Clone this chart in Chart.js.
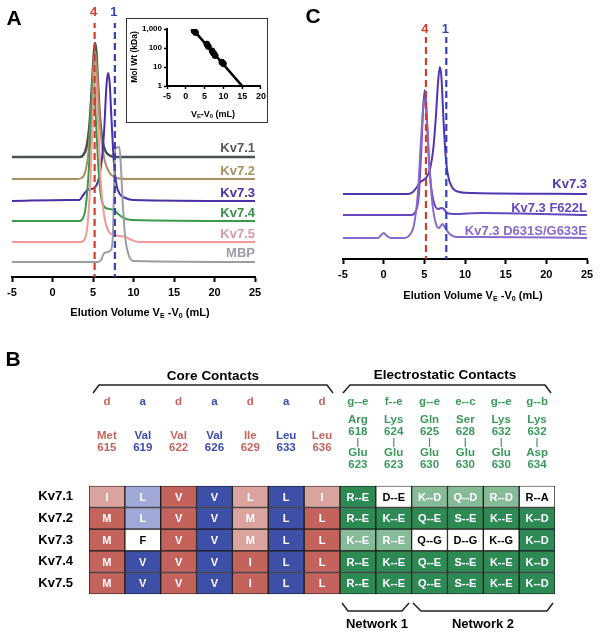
<!DOCTYPE html>
<html>
<head>
<meta charset="utf-8">
<script src="https://cdn.jsdelivr.net/npm/chart.js@4.4.1/dist/chart.umd.min.js"></script>
<style>
  body { margin: 0; background: #fff; }
  #fig { position: relative; width: 600px; height: 636px; overflow: hidden;
         font-family: "Liberation Sans", Arial, sans-serif; font-weight: bold; }
  canvas { position: absolute; }
  .t { position: absolute; white-space: nowrap; line-height: 1; }
  .t sub { font-size: 65%; line-height: 0; vertical-align: -0.3em; }
  #inset-box { position: absolute; left: 126px; top: 18px; width: 142px; height: 105px;
               box-sizing: border-box; border: 1.3px solid #333; }
  svg { position: absolute; left: 0; top: 0; }
</style>
</head>
<body>
<div id="fig">
  <canvas id="chartA" width="300" height="320" style="left:0;top:0"></canvas>
  <div id="inset-box"></div>
  <canvas id="chartInset" width="142" height="105" style="left:126px;top:18px"></canvas>
  <canvas id="chartC" width="300" height="320" style="left:300px;top:0"></canvas>
  <canvas id="chartB" width="600" height="140" style="left:0;top:470px"></canvas>
  <svg width="600" height="636">
    <g fill="none" stroke="#222" stroke-width="1.5">
      <polyline points="93,393 99,385 327,385 333,393"/>
      <polyline points="343,393 350,385 545,385 551,393"/>
      <polyline points="342,603 348,611 402,611 409,603"/>
      <polyline points="413,603 421,611 547,611 553,603"/>
    </g>
  </svg>
</div>
<script>
// ---- shared
const elutionTicks = [-5, 0, 5, 10, 15, 20, 25];
const markerVolumes = [5.2, 7.7];      // tetramer / monomer standards
const markerNames = ['4', '1'];
const markerColors = ['#d23e2e', '#3443b5'];

// ---- panel A: SEC traces, [elution volume mL, signal + offset]
const kv71 = [[-5,120],[2,120],[3.4,120],[3.8,122],[4.2,130],[4.6,155],[4.9,195],[5.1,222],[5.25,234],[5.4,226],[5.6,195],[5.85,160],[6.2,135],[6.6,125],[7.2,121],[8,120],[12,120],[25,120]];
const kv72 = [[-5,98],[3,98],[3.6,99],[4,104],[4.4,122],[4.8,170],[5.05,210],[5.25,226],[5.45,212],[5.7,175],[6,140],[6.4,118],[6.9,106],[7.6,100],[9,98],[25,98]];
const kv73 = [[-5,76],[2,77],[3.3,77],[3.8,82],[4.3,87],[4.8,88],[5.3,90],[5.7,98],[6.1,118],[6.4,150],[6.65,190],[6.85,204],[7.05,195],[7.3,155],[7.6,112],[7.9,92],[8.3,83],[9,79],[10,77],[25,76]];
const kv74 = [[-5,56],[3.3,56],[3.7,58],[4.1,70],[4.5,110],[4.8,165],[5.0,197],[5.15,192],[5.4,150],[5.7,105],[6.0,80],[6.4,70],[7.0,68],[7.6,67],[8.1,63],[8.8,59],[9.8,57],[25,56]];
const kv75 = [[-5,35],[3.5,35],[3.9,37],[4.3,50],[4.7,100],[5.0,170],[5.2,207],[5.4,195],[5.7,140],[6.0,90],[6.4,60],[6.9,46],[7.6,42],[8.3,41],[9.0,40],[9.8,37],[10.6,35],[25,35]];
const mbp  = [[-5,15],[5.6,15],[6.0,17],[6.3,23],[6.8,25],[7.2,27],[7.45,40],[7.6,90],[7.75,128],[8.25,130],[8.45,110],[8.7,70],[9.0,38],[9.4,22],[10,16],[25,15]];
const aNames  = ['Kv7.1', 'Kv7.2', 'Kv7.3', 'Kv7.4', 'Kv7.5', 'MBP'];
const aTraces = [kv71, kv72, kv73, kv74, kv75, mbp];
const aColors = ['#4b5050', '#a8905e', '#4a2fa6', '#3a9a4c', '#f19a98', '#9c9ca6'];
const aLabelColors = ['#555a5a', '#a8905e', '#4a2fa6', '#3a9048', '#d899a8', '#9c9ca6'];
const aLabelY = [147, 170, 192, 212, 233, 252];

// ---- inset: calibration standards
const stdVolumes = [2.2, 2.6, 5.6, 6.0, 7.0, 7.4, 7.8, 9.6, 10.0];
const stdMass = [800, 650, 160, 120, 70, 52, 40, 18, 15];
const fitLine = [[1.8, 1000], [15, 1]];
const insetXTicks = [-5, 0, 5, 10, 15, 20];
const insetYTicks = [1, 10, 100, 1000];

// ---- panel C: Kv7.3 mutants
const c73    = [[-5,65],[3,65],[3.6,67],[4.1,72],[4.5,77],[4.9,79],[5.3,82],[5.7,90],[6.1,110],[6.4,140],[6.7,178],[6.9,192],[7.1,182],[7.35,140],[7.6,105],[7.9,84],[8.4,72],[9.3,67],[11,66],[25,65]];
const cF622L = [[-5,44],[3.4,44],[3.9,47],[4.3,62],[4.6,105],[4.85,150],[5.05,169],[5.25,152],[5.5,110],[5.8,75],[6.2,56],[6.7,50],[7.1,51],[7.4,50],[7.8,46],[8.6,45],[12,46],[25,44]];
const cD631S = [[-5,21],[-0.7,21],[-0.3,24],[0,26],[0.4,23],[0.9,21],[2.5,21],[3.2,24],[3.7,33],[4.2,65],[4.6,120],[4.9,155],[5.05,159],[5.3,140],[5.6,95],[6.0,55],[6.4,36],[6.8,31],[7.2,35],[7.5,32],[8.0,26],[9,22],[12,22],[25,21]];
const cNames  = ['Kv7.3', 'Kv7.3 F622L', 'Kv7.3 D631S/G633E'];
const cTraces = [c73, cF622L, cD631S];
const cColors = ['#5036b0', '#6548bd', '#8a69cc'];
const cLabelY = [183, 207, 230];

// ---- panel B: coiled-coil contact table
const rowNames = ['Kv7.1', 'Kv7.2', 'Kv7.3', 'Kv7.4', 'Kv7.5'];
const heptad = ['d', 'a', 'd', 'a', 'd', 'a', 'd', 'g--e', 'f--e', 'g--e', 'e--c', 'g--e', 'g--b'];
const coreNames = ['Met', 'Val', 'Val', 'Val', 'Ile', 'Leu', 'Leu'];
const coreNums  = ['615', '619', '622', '626', '629', '633', '636'];
const pairFrom    = ['Arg', 'Lys', 'Gln', 'Ser', 'Lys', 'Lys'];
const pairFromNum = ['618', '624', '625', '628', '632', '632'];
const pairTo      = ['Glu', 'Glu', 'Glu', 'Glu', 'Glu', 'Asp'];
const pairToNum   = ['623', '623', '630', '630', '630', '634'];
const cellText = [
  ['I', 'L', 'V', 'V', 'L', 'L', 'I', 'R--E', 'D--E', 'K--D', 'Q--D', 'R--D', 'R--A'],
  ['M', 'L', 'V', 'V', 'M', 'L', 'L', 'R--E', 'K--E', 'Q--E', 'S--E', 'K--E', 'K--D'],
  ['M', 'F', 'V', 'V', 'M', 'L', 'L', 'K--E', 'R--E', 'Q--G', 'D--G', 'K--G', 'K--D'],
  ['M', 'V', 'V', 'V', 'I', 'L', 'L', 'R--E', 'K--E', 'Q--E', 'S--E', 'K--E', 'K--D'],
  ['M', 'V', 'V', 'V', 'I', 'L', 'L', 'R--E', 'K--E', 'Q--E', 'S--E', 'K--E', 'K--D']
];
// 0 = no match, 1 = partial, 2 = conserved
const cellShade = [
  [1, 1, 2, 2, 1, 2, 1, 2, 0, 1, 1, 1, 0],
  [2, 1, 2, 2, 1, 2, 2, 2, 2, 2, 2, 2, 2],
  [2, 0, 2, 2, 1, 2, 2, 1, 1, 0, 0, 0, 2],
  [2, 2, 2, 2, 2, 2, 2, 2, 2, 2, 2, 2, 2],
  [2, 2, 2, 2, 2, 2, 2, 2, 2, 2, 2, 2, 2]
];
const palette = {
  d: ['#ffffff', '#dba39e', '#c4625c'],
  a: ['#ffffff', '#a0a8d8', '#3d4fa6'],
  e: ['#ffffff', '#86bb97', '#2e8a55']
};
const headColors = { d: '#c4665f', a: '#3a4cb0', e: '#3a9a5c' };

const FONT = '"Liberation Sans", Arial, sans-serif';
const fig = document.getElementById('fig');

function label(text, x, y, size, color, align = 'center', html = false) {
  const d = document.createElement('div');
  d.className = 't';
  d.style.left = x + 'px';
  d.style.top = y + 'px';
  d.style.fontSize = size + 'px';
  d.style.color = color;
  const tx = align === 'center' ? '-50%' : align === 'right' ? '-100%' : '0';
  d.style.transform = `translate(${tx},-50%)`;
  if (html) d.innerHTML = text; else d.textContent = text;
  fig.appendChild(d);
  return d;
}

const toXY = arr => arr.map(p => ({ x: p[0], y: p[1] }));

function markerSets(ymax) {
  return markerVolumes.map((v, i) => ({
    data: [{ x: v, y: -4 }, { x: v, y: ymax }],
    borderColor: markerColors[i],
    borderWidth: 2.2,
    borderDash: [7, 4],
    pointRadius: 0
  }));
}

function elutionAxis(height) {
  return {
    type: 'linear', min: -5, max: 25,
    afterBuildTicks: s => { s.ticks = elutionTicks.map(v => ({ value: v })); },
    afterFit: s => { s.height = height; },
    border: { color: '#000', width: 2 },
    grid: { drawOnChartArea: false, tickLength: 5, tickColor: '#000', tickWidth: 2 },
    ticks: { color: '#000', padding: 4, maxRotation: 0, font: { family: FONT, size: 11, weight: 'bold' } }
  };
}

function traceChart(id, traces, colors, ymax, pad, axisHeight) {
  const sets = markerSets(ymax);
  // later traces drawn first so the first-listed trace ends up lowest
  for (let i = traces.length - 1; i >= 0; i--) {
    sets.push({
      data: toXY(traces[i]),
      borderColor: colors[i],
      borderWidth: i === 0 && id === 'chartA' ? 2.6 : 2,
      pointRadius: 0,
      cubicInterpolationMode: 'monotone'
    });
  }
  return new Chart(document.getElementById(id), {
    type: 'line',
    data: { datasets: sets },
    options: {
      responsive: false,
      animation: false,
      layout: { padding: pad },
      plugins: { legend: { display: false }, tooltip: { enabled: false } },
      scales: {
        x: elutionAxis(axisHeight),
        y: { display: false, min: 0, max: ymax }
      }
    }
  });
}

// ---- panel A
const chartA = traceChart('chartA', aTraces, aColors, 254, { left: 12, right: 45, top: 23, bottom: 0 }, 43);
aNames.forEach((n, i) => label(n, 255, aLabelY[i], 13, aLabelColors[i], 'right'));
markerVolumes.forEach((v, i) => label(markerNames[i], chartA.scales.x.getPixelForValue(v) - 1, 11, 13, markerColors[i]));
label('Elution Volume V<sub>E</sub> -V<sub>0</sub> (mL)', 140, 312, 11, '#000', 'center', true);
label('A', 14, 17, 21, '#000');

// ---- inset
new Chart(document.getElementById('chartInset'), {
  type: 'scatter',
  data: {
    datasets: [
      { data: stdVolumes.map((v, i) => ({ x: v, y: stdMass[i] })), backgroundColor: '#000', borderColor: '#000', pointRadius: 3 },
      { type: 'line', data: toXY(fitLine), borderColor: '#000', borderWidth: 2.6, pointRadius: 0 }
    ]
  },
  options: {
    responsive: false,
    animation: false,
    layout: { padding: { left: 0, right: 6, top: 11, bottom: 0 } },
    plugins: { legend: { display: false }, tooltip: { enabled: false } },
    scales: {
      x: {
        type: 'linear', min: -5, max: 20,
        afterBuildTicks: s => { s.ticks = insetXTicks.map(v => ({ value: v })); },
        afterFit: s => { s.height = 37; },
        border: { color: '#000', width: 2 },
        grid: { drawOnChartArea: false, tickLength: 3, tickColor: '#000', tickWidth: 1.5 },
        ticks: { color: '#000', padding: 2, maxRotation: 0, font: { family: FONT, size: 9, weight: 'bold' } }
      },
      y: {
        type: 'logarithmic', min: 1, max: 1000,
        afterBuildTicks: s => { s.ticks = insetYTicks.map(v => ({ value: v })); },
        afterFit: s => { s.width = 41; },
        border: { color: '#000', width: 2 },
        grid: { drawOnChartArea: false, tickLength: 3, tickColor: '#000', tickWidth: 1.5 },
        ticks: { color: '#000', padding: 2, callback: v => v.toLocaleString('en-US'), font: { family: FONT, size: 8, weight: 'bold' } }
      }
    }
  }
});
label('Mol Wt (kDa)', 134, 57, 8.5, '#000').style.transform = 'translate(-50%,-50%) rotate(-90deg)';
label('V<sub>E</sub>-V<sub>0</sub> (mL)', 213, 114, 9, '#000', 'center', true);

// ---- panel C
const chartC = traceChart('chartC', cTraces, cColors, 222, { left: 43, right: 13, top: 37, bottom: 0 }, 61);
cNames.forEach((n, i) => label(n, 587, cLabelY[i], 13, cColors[i], 'right'));
markerVolumes.forEach((v, i) => label(markerNames[i], 300 + chartC.scales.x.getPixelForValue(v) - 1, 28, 13, markerColors[i]));
label('Elution Volume V<sub>E</sub> -V<sub>0</sub> (mL)', 473, 295, 11, '#000', 'center', true);
label('C', 313, 15, 21, '#000');

// ---- panel B
const family = c => heptad[c] === 'd' ? 'd' : heptad[c] === 'a' ? 'a' : 'e';

const cellLabels = {
  id: 'cellLabels',
  afterDatasetsDraw(chart) {
    const ctx = chart.ctx;
    ctx.save();
    ctx.font = 'bold 11px ' + FONT;
    ctx.textAlign = 'center';
    ctx.textBaseline = 'middle';
    chart.data.datasets.forEach((ds, c) => {
      chart.getDatasetMeta(c).data.forEach((bar, r) => {
        ctx.fillStyle = cellShade[r][c] === 0 ? '#000' : '#fff';
        ctx.fillText(cellText[r][c], (bar.x + bar.base) / 2, bar.y + 1);
      });
    });
    ctx.restore();
  }
};

const chartB = new Chart(document.getElementById('chartB'), {
  type: 'bar',
  data: {
    labels: rowNames,
    datasets: heptad.map((h, c) => ({
      data: rowNames.map(() => [c, c + 1]),
      backgroundColor: rowNames.map((_, r) => palette[family(c)][cellShade[r][c]]),
      borderColor: '#1c1c1c',
      borderWidth: 1,
      borderSkipped: false,
      grouped: false,
      barPercentage: 1,
      categoryPercentage: 1
    }))
  },
  options: {
    indexAxis: 'y',
    responsive: false,
    animation: false,
    layout: { padding: { left: 0, right: 45, top: 5, bottom: 13 } },
    plugins: { legend: { display: false }, tooltip: { enabled: false } },
    scales: {
      x: { display: false, min: 0, max: heptad.length },
      y: {
        afterFit: s => { s.width = 89; },
        grid: { display: false },
        border: { display: false },
        ticks: { color: '#000', padding: 8, font: { family: FONT, size: 13, weight: 'bold' } }
      }
    }
  },
  plugins: [cellLabels]
});

const colX = c => chartB.scales.x.getPixelForValue(c + 0.5);
heptad.forEach((h, c) => label(h, colX(c), 402, 11.5, headColors[family(c)]));
coreNames.forEach((n, c) => {
  label(n, colX(c), 436, 11.5, headColors[family(c)]);
  label(coreNums[c], colX(c), 448, 11.5, headColors[family(c)]);
});
pairFrom.forEach((n, i) => {
  const x = colX(coreNames.length + i);
  label(n, x, 420, 11.5, headColors.e);
  label(pairFromNum[i], x, 432, 11.5, headColors.e);
  label('|', x, 442, 9, headColors.e);
  label(pairTo[i], x, 453, 11.5, headColors.e);
  label(pairToNum[i], x, 465, 11.5, headColors.e);
});
label('Core Contacts', 213, 376, 13.5, '#000');
label('Electrostatic Contacts', 445, 375, 13.5, '#000');
label('Network 1', 377, 623, 13, '#000');
label('Network 2', 483, 623, 13, '#000');
label('B', 13, 358, 21, '#000');
</script>
</body>
</html>
